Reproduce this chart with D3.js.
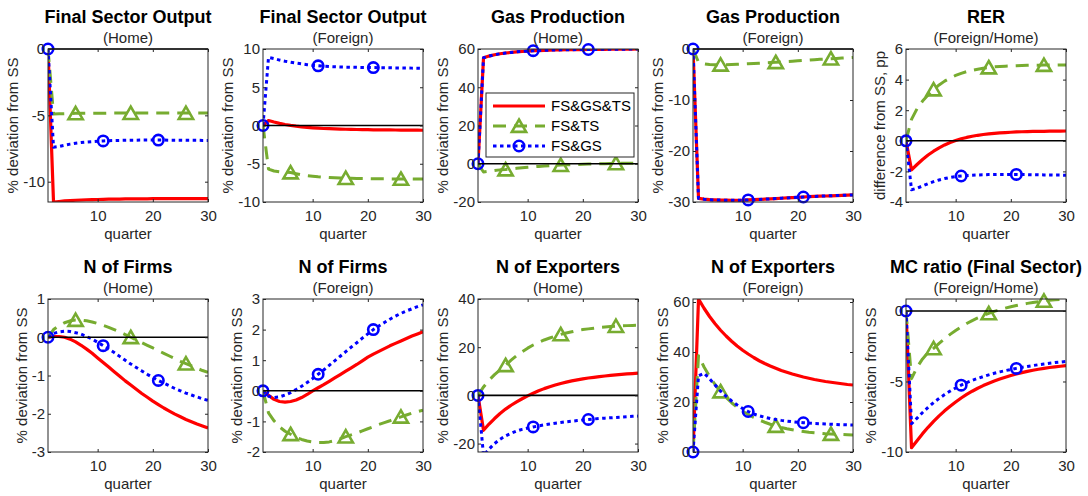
<!DOCTYPE html>
<html>
<head>
<meta charset="utf-8">
<script src="https://cdn.jsdelivr.net/npm/d3@7"></script>
<style>
  body { margin: 0; background: #fff; }
  svg { display: block; }
  text { font-family: "Liberation Sans", Arial, Helvetica, sans-serif; }
</style>
</head>
<body>
<svg id="chart" width="1088" height="496"></svg>
<script>
// Impulse responses, quarters 1..30
const quarters = [1,2,3,4,5,6,7,8,9,10,11,12,13,14,15,16,17,18,19,20,21,22,23,24,25,26,27,28,29,30];

const titles = ["Final Sector Output", "Final Sector Output", "Gas Production", "Gas Production", "RER",
                "N of Firms", "N of Firms", "N of Exporters", "N of Exporters", "MC ratio (Final Sector)"];
const subtitles = ["(Home)", "(Foreign)", "(Home)", "(Foreign)", "(Foreign/Home)",
                   "(Home)", "(Foreign)", "(Home)", "(Foreign)", "(Foreign/Home)"];
const yLabels = ["% deviation from SS", "% deviation from SS", "% deviation from SS", "% deviation from SS", "difference from SS, pp",
                 "% deviation from SS", "% deviation from SS", "% deviation from SS", "% deviation from SS", "% deviation from SS"];
const yDomains = [[-11.53, 0], [-10, 10], [-20, 60], [-30, 0], [-4, 6],
                  [-3, 1], [-2, 3], [-23.5, 40], [0, 61.2], [-10, 0.85]];
const yTicks = [[-10, -5, 0], [-10, -5, 0, 5, 10], [-20, 0, 20, 40, 60], [-30, -20, -10, 0], [-4, -2, 0, 2, 4, 6],
                [-3, -2, -1, 0, 1], [-2, -1, 0, 1, 2, 3], [-20, 0, 20, 40], [0, 20, 40, 60], [-10, -5, 0]];
const xTicks = [10, 20, 30];

const seriesNames = ["FS&GS&TS", "FS&TS", "FS&GS"];

// FS&GS&TS
const fsgsts = [
  [0,-11.53,-11.49,-11.45,-11.42,-11.40,-11.38,-11.36,-11.35,-11.34,-11.33,-11.32,-11.31,-11.31,-11.30,-11.30,-11.29,-11.29,-11.29,-11.28,-11.28,-11.28,-11.28,-11.28,-11.27,-11.27,-11.27,-11.27,-11.27,-11.27],
  [0,0.65,0.45,0.28,0.13,0.01,-0.09,-0.17,-0.24,-0.30,-0.35,-0.39,-0.42,-0.45,-0.47,-0.49,-0.51,-0.52,-0.54,-0.55,-0.56,-0.57,-0.58,-0.58,-0.59,-0.60,-0.60,-0.61,-0.61,-0.62],
  [0,55.4,56.3,57.0,57.5,57.9,58.2,58.5,58.7,58.9,59.1,59.2,59.3,59.4,59.5,59.55,59.6,59.65,59.7,59.72,59.75,59.78,59.8,59.83,59.86,59.88,59.9,59.93,59.96,60.0],
  [0,-29.3,-29.45,-29.55,-29.6,-29.63,-29.65,-29.66,-29.66,-29.65,-29.6,-29.55,-29.5,-29.45,-29.38,-29.32,-29.26,-29.2,-29.14,-29.08,-29.02,-28.96,-28.91,-28.86,-28.82,-28.78,-28.74,-28.7,-28.66,-28.62],
  [0,-1.9,-1.55,-1.22,-0.93,-0.68,-0.46,-0.27,-0.11,0.02,0.13,0.22,0.3,0.36,0.41,0.45,0.49,0.52,0.54,0.56,0.58,0.59,0.6,0.61,0.62,0.62,0.63,0.63,0.63,0.64],
  [0,0.02,0.02,0.0,-0.05,-0.12,-0.21,-0.31,-0.42,-0.54,-0.66,-0.78,-0.9,-1.02,-1.14,-1.25,-1.36,-1.47,-1.57,-1.67,-1.76,-1.85,-1.93,-2.01,-2.08,-2.15,-2.21,-2.27,-2.32,-2.37],
  [0,-0.15,-0.28,-0.35,-0.37,-0.35,-0.3,-0.22,-0.12,0.0,0.1,0.2,0.31,0.42,0.53,0.64,0.75,0.86,0.98,1.1,1.2,1.29,1.38,1.47,1.55,1.63,1.71,1.79,1.86,1.93],
  [0,-14.5,-11.9,-9.6,-7.5,-5.7,-4.1,-2.7,-1.4,-0.2,0.9,1.9,2.8,3.6,4.3,4.95,5.5,6.0,6.45,6.85,7.2,7.5,7.8,8.05,8.3,8.5,8.7,8.9,9.05,9.2],
  [0,61.2,57.5,54.2,51.3,48.7,46.4,44.3,42.4,40.7,39.2,37.8,36.5,35.4,34.4,33.5,32.6,31.9,31.2,30.6,30.0,29.5,29.0,28.6,28.2,27.9,27.6,27.3,27.0,26.8],
  [0,-9.7,-9.2,-8.7,-8.25,-7.83,-7.44,-7.08,-6.75,-6.45,-6.17,-5.92,-5.69,-5.48,-5.29,-5.12,-4.97,-4.83,-4.7,-4.58,-4.47,-4.37,-4.28,-4.2,-4.13,-4.07,-4.01,-3.96,-3.92,-3.88]
];

// FS&TS
const fsts = [
  [0,-4.9,-4.88,-4.87,-4.86,-4.85,-4.85,-4.84,-4.84,-4.84,-4.84,-4.83,-4.83,-4.83,-4.83,-4.83,-4.83,-4.83,-4.83,-4.83,-4.83,-4.83,-4.83,-4.83,-4.83,-4.83,-4.83,-4.83,-4.83,-4.83],
  [0,-5.7,-5.95,-6.05,-6.1,-6.15,-6.3,-6.45,-6.55,-6.63,-6.7,-6.75,-6.8,-6.84,-6.87,-6.89,-6.91,-6.93,-6.94,-6.95,-6.96,-6.97,-6.97,-6.98,-6.98,-6.99,-6.99,-6.99,-7.0,-7.0],
  [0,-4.3,-3.9,-3.5,-3.2,-3.0,-2.7,-2.4,-2.1,-1.85,-1.6,-1.4,-1.2,-1.0,-0.85,-0.7,-0.55,-0.45,-0.35,-0.25,-0.15,-0.08,0.0,0.05,0.1,0.15,0.2,0.22,0.25,0.28],
  [0,-2.6,-2.9,-3.05,-3.1,-3.1,-3.08,-3.05,-3.0,-2.95,-2.9,-2.84,-2.78,-2.72,-2.66,-2.6,-2.53,-2.46,-2.39,-2.32,-2.25,-2.18,-2.1,-2.03,-1.96,-1.9,-1.84,-1.78,-1.72,-1.66],
  [0,1.4,2.1,2.6,3.0,3.35,3.65,3.9,4.1,4.27,4.41,4.52,4.61,4.68,4.74,4.79,4.83,4.86,4.88,4.9,4.91,4.92,4.93,4.94,4.94,4.95,4.95,4.95,4.96,4.96],
  [0,0.2,0.3,0.38,0.43,0.45,0.45,0.43,0.4,0.36,0.31,0.26,0.2,0.14,0.07,0.0,-0.07,-0.14,-0.21,-0.28,-0.35,-0.42,-0.49,-0.56,-0.63,-0.69,-0.75,-0.81,-0.87,-0.92],
  [0,-0.72,-0.98,-1.18,-1.32,-1.42,-1.52,-1.59,-1.64,-1.67,-1.69,-1.69,-1.67,-1.63,-1.57,-1.5,-1.44,-1.38,-1.31,-1.24,-1.17,-1.1,-1.04,-0.98,-0.91,-0.85,-0.79,-0.73,-0.68,-0.63],
  [0,3.5,6.3,8.6,10.6,12.5,14.6,16.5,18.1,19.6,20.9,22.0,23.0,23.8,24.6,25.3,25.9,26.4,26.9,27.3,27.6,27.9,28.2,28.4,28.6,28.75,28.85,28.95,29.05,29.1],
  [0,38.5,34.0,30.2,27.0,24.2,21.8,19.7,17.9,16.3,15.0,13.8,12.8,11.9,11.1,10.4,9.8,9.3,8.9,8.5,8.2,7.9,7.7,7.5,7.3,7.2,7.1,7.0,6.9,6.8],
  [0,-4.8,-4.0,-3.4,-2.95,-2.65,-2.3,-1.97,-1.66,-1.38,-1.12,-0.89,-0.68,-0.49,-0.32,-0.17,-0.03,0.09,0.2,0.3,0.39,0.47,0.54,0.6,0.66,0.72,0.76,0.79,0.82,0.85]
];

// FS&GS
const fsgs = [
  [0,-7.4,-7.34,-7.25,-7.17,-7.1,-7.05,-7.01,-6.98,-6.95,-6.93,-6.91,-6.9,-6.89,-6.88,-6.87,-6.87,-6.86,-6.86,-6.86,-6.86,-6.86,-6.87,-6.87,-6.87,-6.88,-6.88,-6.88,-6.89,-6.89],
  [0,8.9,8.75,8.55,8.4,8.27,8.15,8.05,7.95,7.87,7.8,7.75,7.71,7.68,7.65,7.63,7.62,7.6,7.59,7.58,7.57,7.56,7.55,7.54,7.53,7.52,7.51,7.5,7.49,7.48],
  [0,55.4,56.3,57.0,57.5,57.9,58.2,58.5,58.7,58.9,59.1,59.2,59.3,59.4,59.5,59.55,59.6,59.65,59.7,59.72,59.75,59.78,59.8,59.83,59.86,59.88,59.9,59.93,59.96,60.0],
  [0,-29.3,-29.45,-29.55,-29.6,-29.63,-29.65,-29.66,-29.66,-29.65,-29.6,-29.55,-29.5,-29.45,-29.38,-29.32,-29.26,-29.2,-29.14,-29.08,-29.02,-28.96,-28.91,-28.86,-28.82,-28.78,-28.74,-28.7,-28.66,-28.62],
  [0,-3.2,-3.1,-2.95,-2.8,-2.67,-2.56,-2.47,-2.4,-2.34,-2.3,-2.27,-2.25,-2.23,-2.22,-2.21,-2.21,-2.2,-2.2,-2.2,-2.2,-2.21,-2.21,-2.22,-2.22,-2.23,-2.23,-2.24,-2.24,-2.25],
  [0,0.1,0.14,0.16,0.15,0.12,0.08,0.02,-0.05,-0.13,-0.22,-0.31,-0.4,-0.5,-0.6,-0.7,-0.79,-0.88,-0.97,-1.05,-1.13,-1.2,-1.27,-1.34,-1.4,-1.46,-1.51,-1.56,-1.61,-1.65],
  [0,-0.18,-0.22,-0.2,-0.14,-0.06,0.04,0.15,0.27,0.4,0.54,0.68,0.83,0.98,1.13,1.28,1.43,1.57,1.72,1.86,2.0,2.12,2.23,2.34,2.44,2.53,2.61,2.68,2.75,2.81],
  [0,-25,-22.3,-20.0,-18.2,-16.8,-15.7,-14.8,-14.1,-13.6,-13.1,-12.65,-12.25,-11.9,-11.55,-11.25,-10.95,-10.7,-10.45,-10.2,-10.0,-9.8,-9.6,-9.45,-9.3,-9.15,-9.0,-8.85,-8.7,-8.6],
  [0,30.5,31.5,29.3,26.8,24.4,22.3,20.4,18.8,17.4,16.2,15.2,14.5,13.9,13.4,13.0,12.65,12.35,12.1,11.9,11.7,11.55,11.4,11.3,11.2,11.1,11.0,10.9,10.85,10.8],
  [0,-8.0,-7.6,-7.2,-6.84,-6.5,-6.2,-5.93,-5.68,-5.46,-5.26,-5.08,-4.92,-4.78,-4.65,-4.53,-4.42,-4.32,-4.23,-4.15,-4.07,-4.0,-3.93,-3.87,-3.81,-3.76,-3.71,-3.66,-3.62,-3.58]
];

// quarters at which each series carries a marker
const circleQuarters = [1, 11, 21];
const triangleQuarters = [6, 16, 26];

const svg = d3.select("#chart");
const axisColor = "#262626";
const plotW = 160, plotH = 153;
const colLeft = [48, 263, 478, 693, 906];
const rowTop = [49, 299];

const styles = [
  { color: "#ff0000", width: 3.2, dash: null, marker: null },
  { color: "#77ac30", width: 3, dash: "13,8", marker: "triangle" },
  { color: "#0000ff", width: 3, dash: "3.5,3.5", marker: "circle" }
];
const allSeries = [fsgsts, fsts, fsgs];

function drawMarker(g, type, x, y, color) {
  if (type === "circle") {
    g.append("circle").attr("cx", x).attr("cy", y).attr("r", 5.2)
      .attr("fill", "none").attr("stroke", color).attr("stroke-width", 2.6);
  } else if (type === "triangle") {
    const s = 6.5;
    g.append("path")
      .attr("d", `M${x},${y - s} L${x + s * 1.1},${y + s * 0.9} L${x - s * 1.1},${y + s * 0.9} Z`)
      .attr("fill", "none").attr("stroke", color).attr("stroke-width", 2.6)
      .attr("stroke-linejoin", "miter");
  }
}

titles.forEach((title, i) => {
  const row = Math.floor(i / 5), col = i % 5;
  const left = colLeft[col], top = rowTop[row];
  const x = d3.scaleLinear().domain([1, 30]).range([left, left + plotW]);
  const y = d3.scaleLinear().domain(yDomains[i]).range([top + plotH, top]);
  const g = svg.append("g");

  const clipId = "clip" + i;
  svg.append("clipPath").attr("id", clipId)
    .append("rect").attr("x", left).attr("y", top).attr("width", plotW).attr("height", plotH);

  // series lines
  const line = d3.line().x((d, k) => x(quarters[k])).y(d => y(d));
  allSeries.forEach((ser, s) => {
    const st = styles[s];
    g.append("path").datum(ser[i])
      .attr("clip-path", `url(#${clipId})`)
      .attr("d", line)
      .attr("fill", "none")
      .attr("stroke", st.color)
      .attr("stroke-width", st.width)
      .attr("stroke-dasharray", st.dash)
      .attr("stroke-linejoin", "round");
    const mq = st.marker === "circle" ? circleQuarters : st.marker === "triangle" ? triangleQuarters : [];
    mq.forEach(q => {
      const k = quarters.indexOf(q);
      drawMarker(g, st.marker, x(q), y(ser[i][k]), st.color);
    });
  });

  // zero reference line
  if (yDomains[i][0] < 0 && yDomains[i][1] >= 0) {
    g.append("line").attr("x1", left).attr("x2", left + plotW)
      .attr("y1", y(0)).attr("y2", y(0))
      .attr("stroke", "#000").attr("stroke-width", 1.6);
  }

  // axes box
  g.append("rect").attr("x", left).attr("y", top).attr("width", plotW).attr("height", plotH)
    .attr("fill", "none").attr("stroke", axisColor).attr("stroke-width", 1);

  // x axis ticks (bottom + mirrored top)
  const xAxis = d3.axisBottom(x).tickValues(xTicks).tickSizeInner(-3).tickSizeOuter(0).tickPadding(8);
  const gx = g.append("g").attr("transform", `translate(0,${top + plotH})`).call(xAxis);
  gx.select(".domain").remove();
  gx.selectAll("line").attr("stroke", axisColor);
  gx.selectAll("text").attr("font-size", 15).attr("fill", axisColor)
    .attr("font-family", '"Liberation Sans", Arial, sans-serif');
  const gxTop = g.append("g").attr("transform", `translate(0,${top})`)
    .call(d3.axisTop(x).tickValues(xTicks).tickSizeInner(-3).tickSizeOuter(0).tickFormat(""));
  gxTop.select(".domain").remove();
  gxTop.selectAll("line").attr("stroke", axisColor);

  // y axis ticks (left + mirrored right)
  const yAxis = d3.axisLeft(y).tickValues(yTicks[i]).tickSizeInner(-3).tickSizeOuter(0).tickPadding(3)
    .tickFormat(d => String(d));
  const gy = g.append("g").attr("transform", `translate(${left},0)`).call(yAxis);
  gy.select(".domain").remove();
  gy.selectAll("line").attr("stroke", axisColor);
  gy.selectAll("text").attr("font-size", 15).attr("fill", axisColor)
    .attr("font-family", '"Liberation Sans", Arial, sans-serif');
  const gyR = g.append("g").attr("transform", `translate(${left + plotW},0)`)
    .call(d3.axisRight(y).tickValues(yTicks[i]).tickSizeInner(-3).tickSizeOuter(0).tickFormat(""));
  gyR.select(".domain").remove();
  gyR.selectAll("line").attr("stroke", axisColor);

  // widest tick label sets the y-label offset
  let maxW = 0;
  gy.selectAll("text").each(function () { maxW = Math.max(maxW, this.getComputedTextLength()); });

  // titles
  g.append("text").attr("x", left + plotW / 2).attr("y", top - 26)
    .attr("text-anchor", "middle").attr("font-size", 18).attr("font-weight", "bold")
    .attr("fill", "#000").text(title);
  g.append("text").attr("x", left + plotW / 2).attr("y", top - 6)
    .attr("text-anchor", "middle").attr("font-size", 15).attr("fill", axisColor).text(subtitles[i]);

  // axis labels
  g.append("text").attr("x", left + plotW / 2).attr("y", top + plotH + 37)
    .attr("text-anchor", "middle").attr("font-size", 15).attr("fill", axisColor).text("quarter");
  const lx = left - 3 - maxW - 5;
  g.append("text").attr("transform", `translate(${lx},${top + plotH / 2}) rotate(-90)`)
    .attr("text-anchor", "middle").attr("font-size", 15).attr("fill", axisColor).text(yLabels[i]);

  // legend inside the Gas Production (Home) panel
  if (i === 2) {
    const lg = svg.append("g");
    lg.append("rect").attr("x", left + 8).attr("y", top + 44).attr("width", 148).attr("height", 64)
      .attr("fill", "#fff").attr("stroke", axisColor).attr("stroke-width", 1);
    seriesNames.forEach((name, s) => {
      const st = styles[s];
      const ly = top + 57 + s * 20;
      lg.append("line").attr("x1", left + 15).attr("x2", left + 67).attr("y1", ly).attr("y2", ly)
        .attr("stroke", st.color).attr("stroke-width", st.width).attr("stroke-dasharray", st.dash);
      if (st.marker) drawMarker(lg, st.marker, left + 41, ly, st.color);
      lg.append("text").attr("x", left + 73).attr("y", ly + 5).attr("font-size", 15)
        .attr("fill", "#000").text(name);
    });
  }
});
</script>
</body>
</html>
